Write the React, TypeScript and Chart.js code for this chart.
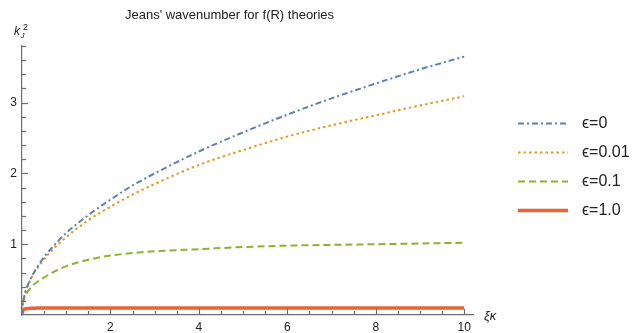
import React, { useEffect, useRef } from "react";
import { Chart, registerables } from "chart.js";

Chart.register(...registerables);

// ---- data ----
const xValues = [0, 0.02, 0.05, 0.1, 0.15, 0.25, 0.35, 0.5, 0.75, 1, 1.5, 2, 2.5, 3, 4, 5, 6, 7, 8, 9, 10];
const eps0 = [0, 0.16, 0.26, 0.37, 0.45, 0.58, 0.68, 0.82, 1.0, 1.16, 1.41, 1.63, 1.83, 2.0, 2.31, 2.58, 2.83, 3.06, 3.27, 3.47, 3.65];
const eps001 = [0, 0.16, 0.26, 0.36, 0.44, 0.57, 0.66, 0.79, 0.96, 1.1, 1.34, 1.53, 1.7, 1.85, 2.12, 2.33, 2.52, 2.68, 2.82, 2.96, 3.09];
const eps01 = [0, 0.15, 0.23, 0.3, 0.35, 0.42, 0.47, 0.53, 0.62, 0.69, 0.78, 0.84, 0.875, 0.9, 0.93, 0.96, 0.98, 0.99, 1.0, 1.01, 1.02];
const eps1 = [0, 0.06, 0.08, 0.09, 0.093, 0.095, 0.098, 0.1, 0.1, 0.1, 0.1, 0.1, 0.1, 0.1, 0.1, 0.1, 0.1, 0.1, 0.1, 0.1, 0.1];
const seriesLabels = ["\u03F5=0", "\u03F5=0.01", "\u03F5=0.1", "\u03F5=1.0"];
const xTickLabels = [2, 4, 6, 8, 10];
const yTickLabels = [1, 2, 3];
const titleText = "Jeans' wavenumber for f(R) theories";

const AXIS = "#6e6e6e";
const TEXT = "#222222";
const FONT = '"Liberation Sans", Arial, sans-serif';

const overlayPlugin = {
  id: "overlay",
  afterDraw(chart: any) {
    const { ctx, chartArea, scales } = chart;
    const xs = scales.x;
    const ys = scales.y;
    ctx.save();
    ctx.strokeStyle = AXIS;
    ctx.lineWidth = 1.2;
    ctx.setLineDash([]);
    // x tick marks (inward), minor every 0.5, major every 2
    for (let i = 1; i <= 20; i++) {
      const v = i * 0.5;
      const px = Math.round(xs.getPixelForValue(v)) + 0.5;
      const len = i % 4 === 0 ? 6 : 4;
      ctx.beginPath();
      ctx.moveTo(px, chartArea.bottom);
      ctx.lineTo(px, chartArea.bottom - len);
      ctx.stroke();
    }
    // y tick marks (inward), minor every 0.2, major every 1
    for (let i = 1; i <= 19; i++) {
      const v = i * 0.2;
      const py = Math.round(ys.getPixelForValue(v)) + 0.5;
      const len = i % 5 === 0 ? 6 : 4;
      ctx.beginPath();
      ctx.moveTo(chartArea.left, py);
      ctx.lineTo(chartArea.left + len, py);
      ctx.stroke();
    }

    // title
    ctx.fillStyle = TEXT;
    ctx.font = `13px ${FONT}`;
    ctx.textAlign = "center";
    ctx.textBaseline = "alphabetic";
    ctx.fillText(titleText, 229.5, 19);

    // y axis label k_J^2
    ctx.textAlign = "left";
    ctx.font = `italic 12px ${FONT}`;
    ctx.fillText("k", 14, 35);
    ctx.font = `italic 8px ${FONT}`;
    ctx.fillText("J", 20.5, 38);
    ctx.font = `9px ${FONT}`;
    ctx.fillText("2", 23, 30);

    // x axis label
    ctx.font = `italic 13px ${FONT}`;
    ctx.fillText("\u03BE\u03BA", 484, 320);

    // legend
    const dsets = chart.data.datasets;
    dsets.forEach((ds: any, i: number) => {
      const yRow = 123 + 29 * i;
      ctx.strokeStyle = ds.borderColor;
      ctx.lineWidth = ds.borderWidth;
      ctx.setLineDash(ds.borderDash || []);
      ctx.lineCap = "butt";
      ctx.beginPath();
      ctx.moveTo(518, yRow + 0.5);
      ctx.lineTo(568, yRow + 0.5);
      ctx.stroke();
      ctx.setLineDash([]);
      ctx.fillStyle = TEXT;
      ctx.font = `16px ${FONT}`;
      ctx.textBaseline = "middle";
      ctx.fillText(ds.label, 582, yRow + 1);
    });
    ctx.restore();
  },
};

export default function App() {
  const canvasRef = useRef<HTMLCanvasElement | null>(null);

  useEffect(() => {
    if (!canvasRef.current) return;
    const mk = (label: string, data: number[], color: string, width: number, dash: number[]) => ({
      label,
      data: xValues.map((x, i) => ({ x, y: data[i] })),
      borderColor: color,
      backgroundColor: color,
      borderWidth: width,
      borderDash: dash,
      pointRadius: 0,
      cubicInterpolationMode: "monotone" as const,
      fill: false,
    });
    const chart = new Chart(canvasRef.current, {
      type: "line",
      data: {
        datasets: [
          mk(seriesLabels[0], eps0, "#5E81B5", 2, [6, 3, 2, 3]),
          mk(seriesLabels[1], eps001, "#E19C24", 2, [2.5, 3]),
          mk(seriesLabels[2], eps01, "#8FB131", 2, [7, 4]),
          mk(seriesLabels[3], eps1, "#EB6235", 3.5, []),
        ],
      },
      options: {
        animation: false,
        responsive: true,
        maintainAspectRatio: false,
        layout: { padding: { left: 0, right: 171, top: 46, bottom: 0 } },
        plugins: {
          legend: { display: false },
          title: { display: false },
          tooltip: { enabled: false },
        },
        scales: {
          x: {
            type: "linear",
            min: 0,
            max: 10.2,
            grid: { display: false, drawTicks: false },
            border: { display: true, color: AXIS, width: 1.2 },
            afterBuildTicks: (s: any) => {
              s.ticks = xTickLabels.map((v) => ({ value: v }));
            },
            afterFit: (s: any) => {
              s.height = 18;
            },
            ticks: {
              padding: 5,
              color: TEXT,
              font: { size: 12, family: FONT },
              maxRotation: 0,
              autoSkip: false,
            },
          },
          y: {
            type: "linear",
            min: 0,
            max: 3.8,
            grid: { display: false, drawTicks: false },
            border: { display: true, color: AXIS, width: 1.2 },
            afterBuildTicks: (s: any) => {
              s.ticks = yTickLabels.map((v) => ({ value: v }));
            },
            afterFit: (s: any) => {
              s.width = 22;
            },
            ticks: {
              padding: 5,
              color: TEXT,
              font: { size: 12, family: FONT },
              autoSkip: false,
            },
          },
        },
      },
      plugins: [overlayPlugin],
    });
    return () => chart.destroy();
  }, []);

  return (
    <div style={{ position: "fixed", left: 0, top: 0, width: 644, height: 333, background: "#fff" }}>
      <canvas ref={canvasRef} />
    </div>
  );
}
